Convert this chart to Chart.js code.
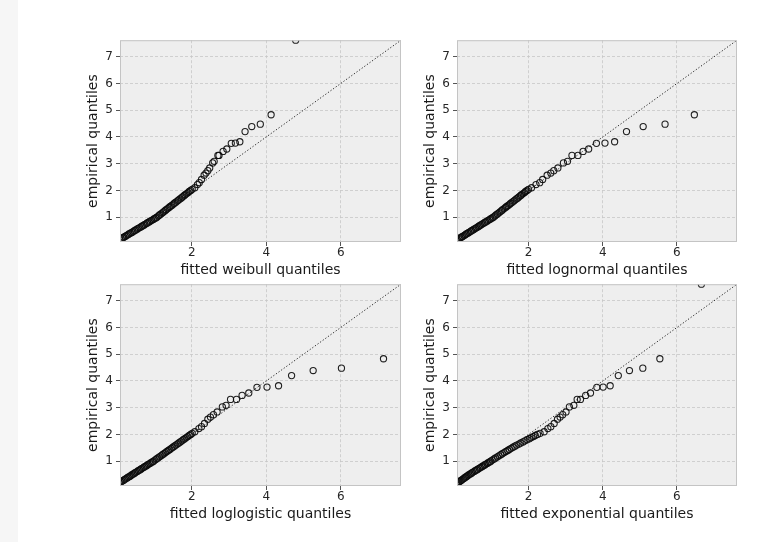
<!DOCTYPE html>
<html>
<head>
<meta charset="utf-8">
<script src="https://cdn.jsdelivr.net/npm/chart.js@4"></script>
<style>
  html, body { margin: 0; padding: 0; background: #ffffff; }
  body { width: 782px; height: 542px; position: relative; overflow: hidden; }
  #strip { position: absolute; left: 0; top: 0; width: 18px; height: 542px; background: #f6f6f6; }
  canvas { position: absolute; }
</style>
</head>
<body>
<div id="strip"></div>
<canvas id="qqWeibull" width="334" height="252" style="left:75px;top:30px"></canvas>
<canvas id="qqLognormal" width="333" height="252" style="left:412px;top:30px"></canvas>
<canvas id="qqLoglogistic" width="334" height="252" style="left:75px;top:274px"></canvas>
<canvas id="qqExponential" width="333" height="252" style="left:412px;top:274px"></canvas>
<script>
// sorted sample (empirical quantiles), shared by all four panels
const empirical = [
    0.10, 0.13, 0.16, 0.19, 0.22, 0.25, 0.28, 0.31, 0.34, 0.37,
    0.40, 0.43, 0.46, 0.49, 0.52, 0.55, 0.58, 0.61, 0.64, 0.67,
    0.70, 0.73, 0.76, 0.79, 0.82, 0.85, 0.88, 0.91, 0.94, 0.97,
    1.00, 1.04, 1.08, 1.12, 1.16, 1.20, 1.24, 1.28, 1.32, 1.36,
    1.40, 1.44, 1.48, 1.52, 1.56, 1.60, 1.64, 1.68, 1.72, 1.76,
    1.80, 1.84, 1.88, 1.92, 1.96, 2.00, 2.04,
    2.10, 2.22, 2.29, 2.41, 2.57, 2.65, 2.74, 2.84, 3.03, 3.09,
    3.31, 3.31, 3.46, 3.55, 3.76, 3.77, 3.82, 4.20, 4.39, 4.48, 4.83,
    7.62
];

// fitted quantiles, one list per distribution
const fittedWeibull = [
    0.00, 0.03, 0.06, 0.10, 0.14, 0.17, 0.21, 0.24, 0.28, 0.31,
    0.35, 0.39, 0.42, 0.46, 0.49, 0.53, 0.56, 0.60, 0.64, 0.67,
    0.71, 0.74, 0.78, 0.81, 0.85, 0.88, 0.92, 0.96, 0.99, 1.03,
    1.06, 1.10, 1.13, 1.17, 1.21, 1.24, 1.28, 1.31, 1.35, 1.39,
    1.42, 1.46, 1.50, 1.53, 1.57, 1.61, 1.64, 1.68, 1.72, 1.75,
    1.79, 1.82, 1.86, 1.90, 1.93, 1.97, 2.01,
    2.08, 2.15, 2.20, 2.26, 2.33, 2.38, 2.43, 2.48, 2.56, 2.60,
    2.70, 2.73, 2.84, 2.94, 3.06, 3.17, 3.29, 3.43, 3.61, 3.84, 4.13,
    4.79
];

const fittedLognormal = [
    0.01, 0.05, 0.08, 0.12, 0.15, 0.19, 0.22, 0.26, 0.29, 0.32,
    0.36, 0.39, 0.43, 0.46, 0.50, 0.53, 0.57, 0.60, 0.64, 0.67,
    0.70, 0.74, 0.77, 0.81, 0.84, 0.88, 0.91, 0.95, 0.98, 1.02,
    1.05, 1.09, 1.12, 1.16, 1.20, 1.23, 1.27, 1.30, 1.34, 1.38,
    1.41, 1.45, 1.49, 1.52, 1.56, 1.60, 1.63, 1.67, 1.71, 1.74,
    1.78, 1.81, 1.85, 1.89, 1.92, 1.96, 2.00,
    2.08, 2.20, 2.30, 2.38, 2.50, 2.60, 2.68, 2.79, 2.94, 3.05,
    3.17, 3.33, 3.47, 3.62, 3.83, 4.06, 4.32, 4.64, 5.09, 5.68, 6.47,
    8.90
];

const fittedLoglogistic = [
    0.00, 0.01, 0.02, 0.05, 0.09, 0.12, 0.16, 0.19, 0.22, 0.26,
    0.29, 0.33, 0.36, 0.39, 0.43, 0.46, 0.49, 0.53, 0.56, 0.60,
    0.63, 0.66, 0.70, 0.73, 0.77, 0.80, 0.83, 0.87, 0.90, 0.94,
    0.97, 1.01, 1.05, 1.09, 1.13, 1.17, 1.21, 1.25, 1.29, 1.33,
    1.37, 1.41, 1.45, 1.49, 1.53, 1.57, 1.61, 1.65, 1.69, 1.73,
    1.77, 1.81, 1.85, 1.89, 1.93, 1.97, 2.01,
    2.08, 2.19, 2.26, 2.34, 2.43, 2.50, 2.58, 2.68, 2.82, 2.92,
    3.04, 3.20, 3.35, 3.53, 3.75, 4.02, 4.33, 4.68, 5.26, 6.02, 7.15,
    11.60
];

const fittedExponential = [
    0.00, 0.03, 0.06, 0.09, 0.12, 0.15, 0.18, 0.21, 0.24, 0.27,
    0.30, 0.33, 0.36, 0.39, 0.43, 0.46, 0.49, 0.53, 0.56, 0.60,
    0.63, 0.67, 0.70, 0.74, 0.77, 0.81, 0.84, 0.88, 0.91, 0.95,
    0.98, 1.02, 1.07, 1.11, 1.16, 1.20, 1.25, 1.29, 1.34, 1.39,
    1.44, 1.48, 1.53, 1.58, 1.63, 1.68, 1.74, 1.79, 1.85, 1.90,
    1.96, 2.02, 2.07, 2.13, 2.18, 2.24, 2.31,
    2.42, 2.52, 2.60, 2.69, 2.78, 2.85, 2.92, 3.01, 3.10, 3.22,
    3.31, 3.40, 3.54, 3.67, 3.84, 4.01, 4.20, 4.42, 4.72, 5.08, 5.54,
    6.66
];

const xTickValues = [2, 4, 6];
const yTickValues = [1, 2, 3, 4, 5, 6, 7];
const axisMin = 0.07;
const axisMax = 7.62;
const diagonal = [0, 8];

const FONT = "'DejaVu Sans', sans-serif";

// plot background and four-sided frame like matplotlib's bmh style
const framePlugin = {
    id: 'frame',
    beforeDraw(chart) {
        const a = chart.chartArea;
        const ctx = chart.ctx;
        ctx.save();
        ctx.fillStyle = '#eeeeee';
        ctx.fillRect(a.left, a.top, a.right - a.left, a.bottom - a.top);
        ctx.restore();
    },
    afterDraw(chart) {
        const a = chart.chartArea;
        const ctx = chart.ctx;
        ctx.save();
        ctx.strokeStyle = '#c4c4c4';
        ctx.lineWidth = 1;
        ctx.strokeRect(a.left + 0.5, a.top + 0.5, a.right - a.left - 1, a.bottom - a.top - 1);
        ctx.restore();
    }
};

function makeQQ(canvasId, fitted, xLabel) {
    const points = fitted.map((x, i) => ({ x: x, y: empirical[i] }));
    const line = diagonal.map(v => ({ x: v, y: v }));

    new Chart(document.getElementById(canvasId).getContext('2d'), {
        type: 'scatter',
        data: {
            datasets: [
                {
                    data: line,
                    type: 'line',
                    borderColor: '#222222',
                    borderWidth: 1,
                    borderDash: [1.2, 2],
                    pointRadius: 0,
                    fill: false
                },
                {
                    data: points,
                    pointRadius: 3.1,
                    pointBorderWidth: 1.1,
                    borderColor: 'rgba(10, 10, 10, 0.9)',
                    backgroundColor: 'rgba(0, 0, 0, 0)',
                    clip: 0
                }
            ]
        },
        options: {
            responsive: false,
            animation: false,
            layout: { padding: { top: 8, right: 8, left: 0, bottom: 0 } },
            plugins: {
                legend: { display: false },
                tooltip: { enabled: false }
            },
            scales: {
                x: {
                    type: 'linear',
                    min: axisMin,
                    max: axisMax,
                    afterBuildTicks: scale => { scale.ticks = xTickValues.map(v => ({ value: v })); },
                    afterFit: scale => { scale.height = 40; },
                    grid: {
                        color: '#c6c6c6',
                        lineWidth: 0.8,
                        tickColor: '#555555',
                        tickLength: 4,
                        tickWidth: 1,
                        tickBorderDash: []
                    },
                    border: { display: false, dash: [3, 2] },
                    ticks: {
                        color: '#262626',
                        padding: 0,
                        maxRotation: 0,
                        font: { family: FONT, size: 12 }
                    },
                    title: {
                        display: true,
                        text: xLabel,
                        color: '#1a1a1a',
                        padding: { top: 0, bottom: 3 },
                        font: { family: FONT, size: 14 }
                    }
                },
                y: {
                    type: 'linear',
                    min: axisMin,
                    max: axisMax,
                    afterBuildTicks: scale => { scale.ticks = yTickValues.map(v => ({ value: v })); },
                    afterFit: scale => { scale.width = 45; },
                    grid: {
                        color: '#c6c6c6',
                        lineWidth: 0.8,
                        tickColor: '#555555',
                        tickLength: 4,
                        tickWidth: 1,
                        tickBorderDash: []
                    },
                    border: { display: false, dash: [3, 2] },
                    ticks: {
                        color: '#262626',
                        padding: 3,
                        font: { family: FONT, size: 12 }
                    },
                    title: {
                        display: true,
                        text: 'empirical quantiles',
                        color: '#1a1a1a',
                        padding: { top: 10, bottom: 0 },
                        font: { family: FONT, size: 14 }
                    }
                }
            }
        },
        plugins: [framePlugin]
    });
}

makeQQ('qqWeibull', fittedWeibull, 'fitted weibull quantiles');
makeQQ('qqLognormal', fittedLognormal, 'fitted lognormal quantiles');
makeQQ('qqLoglogistic', fittedLoglogistic, 'fitted loglogistic quantiles');
makeQQ('qqExponential', fittedExponential, 'fitted exponential quantiles');
</script>
</body>
</html>
